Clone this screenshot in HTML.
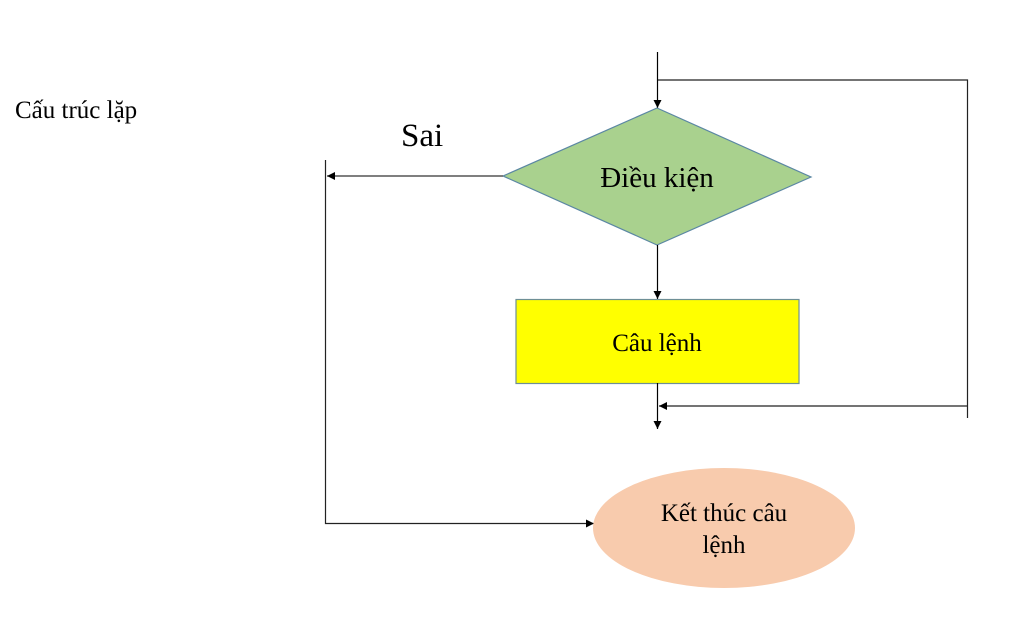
<!DOCTYPE html>
<html>
<head>
<meta charset="utf-8">
<style>
html,body{margin:0;padding:0;background:#fff;}
body{width:1024px;height:634px;overflow:hidden;}
svg{display:block;}
text{font-family:"Liberation Serif","Noto Serif CJK SC",serif;fill:#000;}
</style>
</head>
<body>
<svg width="1024" height="634" viewBox="0 0 1024 634" xmlns="http://www.w3.org/2000/svg">
  <defs>
    <marker id="ah" markerWidth="8" markerHeight="8" refX="8" refY="4" orient="auto" markerUnits="userSpaceOnUse">
      <path d="M0,0 L8,4 L0,8 Z" fill="#000"/>
    </marker>
  </defs>

  <!-- Title -->
  <text x="15" y="118" font-size="25">Cấu trúc lặp</text>

  <!-- Sai label -->
  <text x="401" y="146" font-size="33">Sai</text>

  <!-- Top entry arrow -->
  <line x1="657.5" y1="52" x2="657.5" y2="108" stroke="#000" stroke-width="1.2" marker-end="url(#ah)"/>

  <!-- Loop back line (top + right) -->
  <polyline points="658,80 967.5,80 967.5,418" fill="none" stroke="#222" stroke-width="1.2"/>
  <!-- Return arrow -->
  <line x1="967.5" y1="406" x2="659" y2="406" stroke="#222" stroke-width="1.2" marker-end="url(#ah)"/>

  <!-- Diamond -->
  <polygon points="657,108 811,177 657,245 503,176" fill="#a9d18e" stroke="#5b87a3" stroke-width="1.2"/>
  <text x="657" y="187" font-size="29" text-anchor="middle">Điều kiện</text>

  <!-- Sai arrow -->
  <line x1="503" y1="176" x2="327" y2="176" stroke="#333" stroke-width="1.2" marker-end="url(#ah)"/>
  <!-- Left vertical + bottom horizontal -->
  <polyline points="325.5,160 325.5,523.5 594,523.5" fill="none" stroke="#222" stroke-width="1.2" marker-end="url(#ah)"/>

  <!-- Diamond to rect -->
  <line x1="657.5" y1="245" x2="657.5" y2="299" stroke="#000" stroke-width="1.2" marker-end="url(#ah)"/>

  <!-- Rect -->
  <rect x="516" y="299.5" width="283" height="84" fill="#ffff00" stroke="#6e8f96" stroke-width="1.2"/>
  <text x="657" y="351" font-size="25" text-anchor="middle">Câu lệnh</text>

  <!-- Rect down arrow -->
  <line x1="657.5" y1="383" x2="657.5" y2="429" stroke="#000" stroke-width="1.2" marker-end="url(#ah)"/>

  <!-- Ellipse -->
  <ellipse cx="724" cy="528" rx="131" ry="60" fill="#f8cbad"/>
  <text x="724" y="521" font-size="25" text-anchor="middle">Kết thúc câu</text>
  <text x="724" y="553" font-size="25" text-anchor="middle">lệnh</text>
</svg>
</body>
</html>
